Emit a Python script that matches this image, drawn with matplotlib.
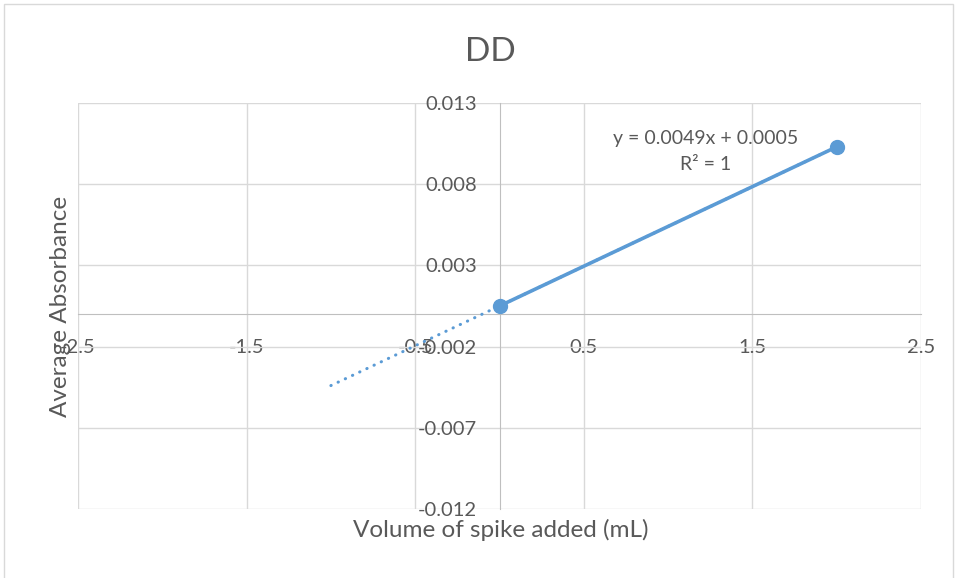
import numpy as np
import matplotlib.pyplot as plt
from matplotlib.patches import Rectangle

# Données : volume ajouté (mL) et absorbance moyenne
volume = [0, 2]
absorbance = [0.0005, 0.0103]
x_ticks = [-2.5, -1.5, -0.5, 0.5, 1.5, 2.5]
y_ticks = [-0.012, -0.007, -0.002, 0.003, 0.008, 0.013]
backcast = 1.0

plt.rcParams['font.family'] = ['Lato', 'DejaVu Sans']
plt.rcParams['axes.unicode_minus'] = False
txt = '#595959'
blue = '#5B9BD5'

fig = plt.figure(figsize=(9.57, 5.78), dpi=100)
fig.patches.append(Rectangle((0.004, -0.02), 0.992, 1.013, transform=fig.transFigure,
                             fill=False, edgecolor='#d9d9d9', linewidth=1))
ax = fig.add_axes([0.0815, 0.1194, 0.8809, 0.7024])

# Régression linéaire (courbe de tendance)
a, b = np.polyfit(volume, absorbance, 1)
xt = np.array([volume[0] - backcast, volume[-1]])
ax.plot(xt, a * xt + b, color=blue, linewidth=2.2, linestyle=(0, (0.1, 2.5)),
        dash_capstyle='round', zorder=3)
ax.plot(volume, absorbance, color=blue, linewidth=2.6, marker='o', markersize=10, zorder=4)

ax.set_xlim(x_ticks[0], x_ticks[-1])
ax.set_ylim(y_ticks[0], y_ticks[-1])
ax.set_xticks(x_ticks)
ax.set_yticks(y_ticks)
ax.set_xticklabels([f"{v:g}" for v in x_ticks])
ax.set_yticklabels([f"{v:.3f}" for v in y_ticks])
ax.grid(True, color='#d9d9d9', linewidth=1)
ax.set_axisbelow(True)
for s in ['top', 'right']:
    ax.spines[s].set_visible(False)
ax.spines['left'].set_position(('data', 0))
ax.spines['bottom'].set_position(('data', 0))
ax.spines['left'].set_color('#bfbfbf')
ax.spines['bottom'].set_color('#bfbfbf')
ax.tick_params(axis='both', length=0, labelsize=14.5, colors=txt)
ax.tick_params(axis='x', pad=18)
ax.tick_params(axis='y', pad=16)

ax.text(1.22, 0.0087, f"y = {a:.4f}x + {b:.4f}\nR² = {1:g}", ha='center', va='bottom',
        multialignment='center', fontsize=14, color=txt, linespacing=1.6)

fig.text(0.512, 0.91, "DD", ha='center', va='center', fontsize=24, color=txt)
fig.text(0.523, 0.083, "Volume of spike added (mL)", ha='center', va='center', fontsize=17.5, color=txt)
fig.text(0.063, 0.47, "Average Absorbance", ha='center', va='center', rotation=90, fontsize=17.5, color=txt)

plt.savefig("out.png", dpi=100)
